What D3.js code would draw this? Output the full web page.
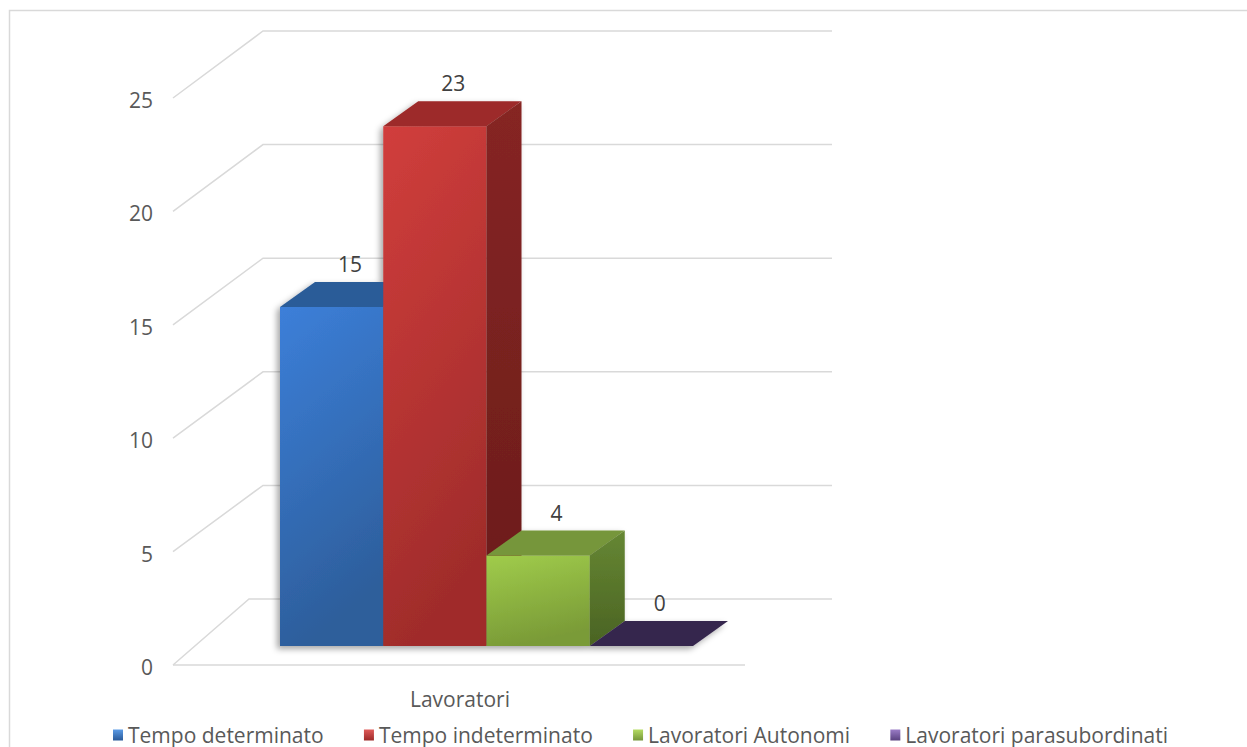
<!DOCTYPE html>
<html>
<head>
<meta charset="utf-8">
<script src="https://cdn.jsdelivr.net/npm/d3@7"></script>
<style>
  html, body { margin: 0; padding: 0; background: #ffffff; }
  svg { display: block; font-family: "Open Sans", sans-serif; }
</style>
</head>
<body>
<svg id="chart" width="1247" height="747"></svg>
<script>
// ---- data ----
const category = ["Lavoratori"];
const seriesNames = ["Tempo determinato", "Tempo indeterminato", "Lavoratori Autonomi", "Lavoratori parasubordinati"];
const seriesValues = [15, 23, 4, 0];
const yTickValues = [0, 5, 10, 15, 20, 25];

// ---- styling ----
const palette = [
  { front: ["#3c7fd9", "#2d5e9b"], top: "#2c5c98", side: ["#26507f", "#1f4268"], legend: ["#5b9be6", "#2a5a99"] },
  { front: ["#d13e3c", "#a02c2b"], top: "#9d2a29", side: ["#862523", "#691c1b"], legend: ["#e05b59", "#9d2a29"] },
  { front: ["#a0cc4b", "#7a9b37"], top: "#76963a", side: ["#668733", "#4a6323"], legend: ["#b5dc62", "#76963a"] },
  { front: ["#4a3769", "#37284f"], top: "#36264e", side: ["#36264e", "#2a1e3d"], legend: ["#9a7cc6", "#5a4280"] }
];

const svg = d3.select("#chart");
const defs = svg.append("defs");

// outer chart border
svg.append("rect").attr("x", 9.5).attr("y", 10.5).attr("width", 1260).attr("height", 760)
  .attr("fill", "none").attr("stroke", "#d9d9d9").attr("stroke-width", 1.5);

// ---- scales ----
const yBack = d3.scaleLinear().domain([0, 25]).range([599, 31]);
const yFront = d3.scaleLinear().domain([0, 25]).range([665, 98]);
const yBar = d3.scaleLinear().domain([0, 25]).range([646, 81]);
const x = d3.scaleBand().domain(seriesNames).range([280, 693]).padding(0);
const xCat = d3.scaleBand().domain(category).range([175, 745]);
const wallLeft = 173, wallBack = 263, wallRight = 832;
const depth = { dx: 35, dy: -25 };

// ---- walls / gridlines ----
const grid = svg.append("g").attr("stroke", "#d9d9d9").attr("stroke-width", 1.5).attr("fill", "none");
yTickValues.forEach(t => {
  if (t === 0) {
    grid.append("path").attr("d", `M${wallLeft},${yFront(0)}L249,${yBack(0)}L${wallRight},${yBack(0)}`);
    grid.append("path").attr("d", `M${wallLeft},${yFront(0)}L745,${yFront(0)}`);
  } else {
    grid.append("path").attr("d", `M${wallLeft},${yFront(t)}L${wallBack},${yBack(t)}L${wallRight},${yBack(t)}`);
  }
});

// tick labels
svg.append("g").selectAll("text").data(yTickValues).join("text")
  .attr("x", 153).attr("y", d => yFront(d) + 2)
  .attr("text-anchor", "end").attr("dominant-baseline", "central")
  .attr("font-size", 21).attr("fill", "#595959")
  .text(d => d);

// category label
svg.append("text").attr("x", xCat(category[0]) + xCat.bandwidth() / 2).attr("y", 707)
  .attr("text-anchor", "middle").attr("font-size", 21).attr("fill", "#595959")
  .text(category[0]);

// ---- gradients & shadow ----
palette.forEach((p, i) => {
  const gf = defs.append("linearGradient").attr("id", "gf" + i).attr("x1", 0).attr("y1", 0).attr("x2", 0.25).attr("y2", 1);
  gf.append("stop").attr("offset", "0%").attr("stop-color", p.front[0]);
  gf.append("stop").attr("offset", "100%").attr("stop-color", p.front[1]);
  const gs = defs.append("linearGradient").attr("id", "gs" + i).attr("x1", 0).attr("y1", 0).attr("x2", 0).attr("y2", 1);
  gs.append("stop").attr("offset", "0%").attr("stop-color", p.side[0]);
  gs.append("stop").attr("offset", "100%").attr("stop-color", p.side[1]);
  const gl = defs.append("linearGradient").attr("id", "gl" + i).attr("x1", 0).attr("y1", 0).attr("x2", 0).attr("y2", 1);
  gl.append("stop").attr("offset", "0%").attr("stop-color", p.legend[0]);
  gl.append("stop").attr("offset", "100%").attr("stop-color", p.legend[1]);
});
const flt = defs.append("filter").attr("id", "shadow").attr("x", "-20%").attr("y", "-20%").attr("width", "140%").attr("height", "140%");
flt.append("feDropShadow").attr("dx", -3).attr("dy", 3).attr("stdDeviation", 3)
  .attr("flood-color", "#000").attr("flood-opacity", 0.35);

// ---- bars ----
const bars = svg.append("g").attr("filter", "url(#shadow)");
seriesNames.forEach((s, i) => {
  const v = seriesValues[i];
  const x0 = x(s), x1 = x(s) + x.bandwidth();
  const yb = yBar(0), yt = yBar(v);
  const g = bars.append("g");
  if (v > 0) {
    g.append("path").attr("fill", `url(#gf${i})`)
      .attr("d", `M${x0},${yt}L${x1},${yt}L${x1},${yb}L${x0},${yb}Z`);
  }
  // top face
  g.append("path").attr("fill", palette[i].top)
    .attr("d", `M${x0},${yt}L${x1},${yt}L${x1 + depth.dx},${yt + depth.dy}L${x0 + depth.dx},${yt + depth.dy}Z`);
  // right side face
  if (v > 0) {
    g.append("path").attr("fill", `url(#gs${i})`)
      .attr("d", `M${x1},${yt}L${x1 + depth.dx},${yt + depth.dy}L${x1 + depth.dx},${yb + depth.dy}L${x1},${yb}Z`);
  }
});

// ---- data labels ----
svg.append("g").selectAll("text").data(seriesNames).join("text")
  .attr("x", (d, i) => x(d) + x.bandwidth() / 2 + depth.dx / 2 + 1)
  .attr("y", (d, i) => yBar(seriesValues[i]) + depth.dy - 18)
  .attr("text-anchor", "middle").attr("dominant-baseline", "central")
  .attr("font-size", 21).attr("fill", "#404040")
  .text((d, i) => seriesValues[i]);

// ---- legend ----
const legend = svg.append("g").attr("font-size", 21).attr("fill", "#595959");
const items = legend.selectAll("g").data(seriesNames).join("g");
items.append("rect").attr("width", 10).attr("height", 11).attr("y", -5)
  .attr("fill", (d, i) => `url(#gl${i})`);
items.append("text").attr("x", 15).attr("y", 0).attr("dominant-baseline", "central").text(d => d);
const widths = [];
items.each(function () { widths.push(this.querySelector("text").getComputedTextLength() + 15); });
const span = 1168 - 113;
const gap = (span - d3.sum(widths)) / (widths.length - 1);
let cx = 113;
items.attr("transform", (d, i) => { const t = `translate(${cx},734.5)`; cx += widths[i] + gap; return t; });
</script>
</body>
</html>
